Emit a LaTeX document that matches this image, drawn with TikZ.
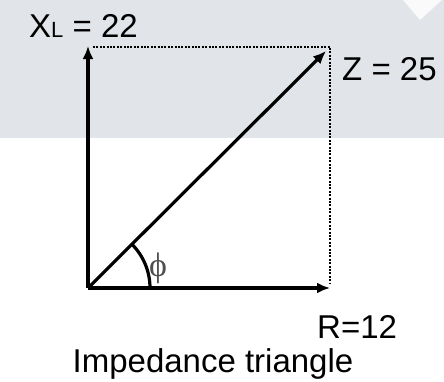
\documentclass[tikz,border=0pt]{standalone}
\usepackage{fontspec}
\setmainfont{Liberation Sans}
\newfontfamily\grfont{Liberation Serif}
\usetikzlibrary{arrows.meta}
\definecolor{bandgray}{RGB}{225,228,232}
\definecolor{phigray}{RGB}{80,80,80}
\begin{document}
\begin{tikzpicture}[x=1pt,y=-1pt,
  vec/.style={line width=3.2pt,-{Latex[length=13pt,width=11pt]}},
  guide/.style={line width=2.8pt,dash pattern=on 2pt off 1.4pt},
  lbl/.style={font=\fontsize{33}{35}\selectfont,inner sep=0pt}]
\useasboundingbox (0,0) rectangle (444,381);
\fill[white] (0,0) rectangle (444,381);
\fill[bandgray] (0,0) rectangle (444,138);
\fill[white!96!gray] (403,0) -- (442,0) -- (420,20) -- cycle;
% points
\coordinate (O) at (88,288);
\coordinate (T) at (88,46);
\coordinate (C) at (330,47);
\coordinate (Rr) at (330,288);
\coordinate (Zt) at (326,51);
% dotted guides
\draw[guide] (93,47) -- (C) -- (330,283);
% vectors
\draw[vec] (O) -- (T);
\draw[vec] (O) -- (Rr);
\draw[vec] (O) -- (Zt);
% angle arc
\draw[line width=3.2pt] (150,288) arc[start angle=0,end angle=-45,radius=62];
% labels
\node[lbl,anchor=base west] (xl) at (29,37) {X{\fontsize{22}{24}\selectfont L} = 22};
\node[lbl,anchor=base west] (z) at (342,80) {Z = 25};
\node[lbl,anchor=base west] (r) at (317,338) {R=12};
\node[lbl,anchor=base] (cap) at (213,372) {Impedance triangle};
\node[inner sep=0pt,text=phigray,font=\grfont\fontsize{34}{36}\selectfont] (phi) at (158,268) {ϕ};
\end{tikzpicture}
\end{document}
